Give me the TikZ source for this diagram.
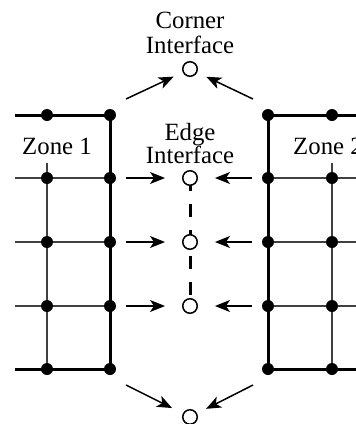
\documentclass[tikz,border=0pt]{standalone}
\usepackage{fontspec}
\setmainfont{Liberation Serif}
\usetikzlibrary{arrows.meta,backgrounds}
\begin{document}
\begin{tikzpicture}[x=1pt,y=-1pt,
  thickln/.style={line width=3pt},
  thinln/.style={line width=1.2pt,black!75},
  dot/.style={circle,fill=black,inner sep=0pt,minimum size=12pt},
  iface/.style={circle,draw,fill=white,line width=1.5pt,inner sep=0pt,minimum size=14.5pt},
  arr/.style={-{Stealth[length=15pt,width=12pt,inset=4pt]},line width=1.5pt},
  lbl/.style={font=\fontsize{24.8}{25}\selectfont,align=center,inner sep=0pt}]
\useasboundingbox (0,0) rectangle (356,424);
\clip (0,0) rectangle (356,424);

% grid lines
\coordinate (lt) at (15,115);
\coordinate (lb) at (15,369);
\coordinate (rt) at (362,115);
\coordinate (rb) at (362,369);
\foreach \y/\r in {178/1,242/2,306/3} {
  \draw[thinln] (15,\y) -- (110,\y);
  \draw[thinln] (268,\y) -- (362,\y);
}
\draw[thinln] (47,163) -- (47,369);
\draw[thinln] (332,163) -- (332,369);
\draw[thickln] (lt) -- (110,115) -- (110,369) -- (lb);
\draw[thickln] (rt) -- (268,115) -- (268,369) -- (rb);

% dots
\foreach \x/\c in {47/a,110/b,268/c,332/d}
  \foreach \y/\r in {115/0,178/1,242/2,306/3,369/4}
    \node[dot] (\c\r) at (\x,\y) {};

% interface circles
\node[iface] (ct) at (190,69) {};
\node[iface] (e1) at (190,178) {};
\node[iface] (e2) at (190,242) {};
\node[iface] (e3) at (190,306) {};
\node[iface] (cb) at (190,417) {};
\begin{scope}[on background layer]
  \draw[line width=3pt,dash pattern=on 13pt off 13pt] (e1.center) -- (e3.center);
\end{scope}

% labels
\node[lbl] (tc) at (190,33) {Corner\\Interface};
\node[lbl,font=\fontsize{24.8}{23}\selectfont] (te) at (190,144) {Edge\\Interface};
\node[lbl,anchor=base west] (z1) at (22,154) {Zone 1};
\node[lbl,anchor=base west] (z2) at (293,154) {Zone 2};

% horizontal arrows
\foreach \r/\e in {1/e1,2/e2,3/e3} {
  \draw[arr,shorten <=10pt,shorten >=17pt] (b\r) -- (\e);
  \draw[arr,shorten <=10pt,shorten >=17pt] (c\r) -- (\e);
}

% corner arrows
\coordinate (tl) at (126,99);
\coordinate (tr) at (253,99);
\coordinate (bl) at (126,385);
\coordinate (br) at (253,385);
\draw[arr,shorten >=10pt] (tl) -- (ct);
\draw[arr,shorten >=10pt] (tr) -- (ct);
\draw[arr,shorten >=12pt] (bl) -- (cb);
\draw[arr,shorten >=10pt] (br) -- (cb);
\end{tikzpicture}
\end{document}
